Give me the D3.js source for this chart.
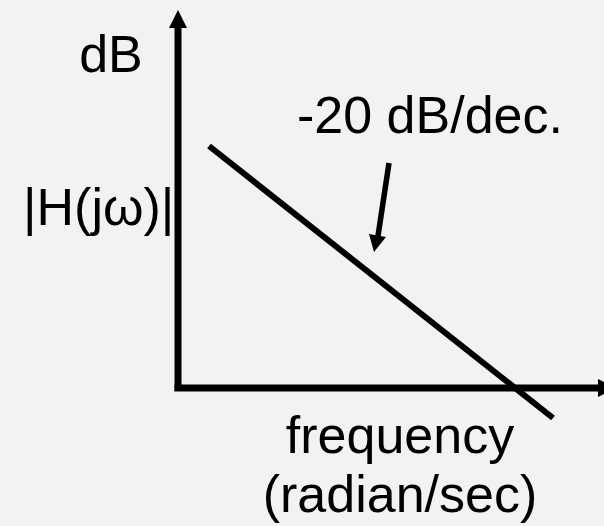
<!DOCTYPE html>
<html><head><meta charset="utf-8">
<script src="https://cdn.jsdelivr.net/npm/d3@7"></script>
<style>html,body{margin:0;padding:0;background:#f2f2f2;}svg{display:block;}</style>
</head><body>
<script>
// Data (schematic Bode magnitude plot, log frequency domain in decades)
const lineFreqDecades = [0.0, 3.55];   // start and end of the asymptote (decades)
const lineGainDb = [0, -71];           // -20 dB/dec slope: gain at those points
const labels = {y1: "dB", y2: "|H(jω)|", slope: "-20 dB/dec.", x1: "frequency", x2: "(radian/sec)"};

const W = 604, H = 526;
const svg = d3.select("body").append("svg").attr("width", W).attr("height", H);
svg.append("rect").attr("width", W).attr("height", H).attr("fill", "#f2f2f2");

const x = d3.scaleLinear().domain([0, 3.55]).range([209, 553]);
const y = d3.scaleLinear().domain([0, -71]).range([146, 418]);

const defs = svg.append("defs");

// Axes (y axis upward, x axis rightward) with arrowheads
const ax = 178, ay = 388;
svg.append("path").attr("d", `M${ax},${ay+3}V27`).attr("stroke", "#000").attr("stroke-width", 7).attr("fill", "none");
svg.append("path").attr("d", `M${ax-9},28L${ax},10L${ax+9},28Z`).attr("fill", "#000");
svg.append("path").attr("d", `M${ax-3.5},${ay}H599`).attr("stroke", "#000").attr("stroke-width", 7).attr("fill", "none");
svg.append("path").attr("d", `M598,${ay-9}L616,${ay}L598,${ay+9}Z`).attr("fill", "#000");

// Asymptote line
svg.append("line")
  .attr("x1", x(lineFreqDecades[0])).attr("y1", y(lineGainDb[0]))
  .attr("x2", x(lineFreqDecades[1])).attr("y2", y(lineGainDb[1]))
  .attr("stroke", "#000").attr("stroke-width", 6);

// Annotation arrow
svg.append("line").attr("x1", 389).attr("y1", 163).attr("x2", 378).attr("y2", 236)
  .attr("stroke", "#000").attr("stroke-width", 5.5);
svg.append("path").attr("d", "M369,234L374,252L386,237Z").attr("fill", "#000");

const font = "'Liberation Sans', Arial, Helvetica, sans-serif";
function txt(s, xx, yy, anchor) {
  svg.append("text").attr("x", xx).attr("y", yy).attr("text-anchor", anchor)
    .attr("font-family", font).attr("font-size", 52).attr("fill", "#000").text(s);
}
txt(labels.y1, 111, 72, "middle");
txt(labels.y2, 23, 225, "start");
txt(labels.slope, 430, 133, "middle");
txt(labels.x1, 400, 453, "middle");
txt(labels.x2, 400, 512, "middle");
</script>
</body></html>
